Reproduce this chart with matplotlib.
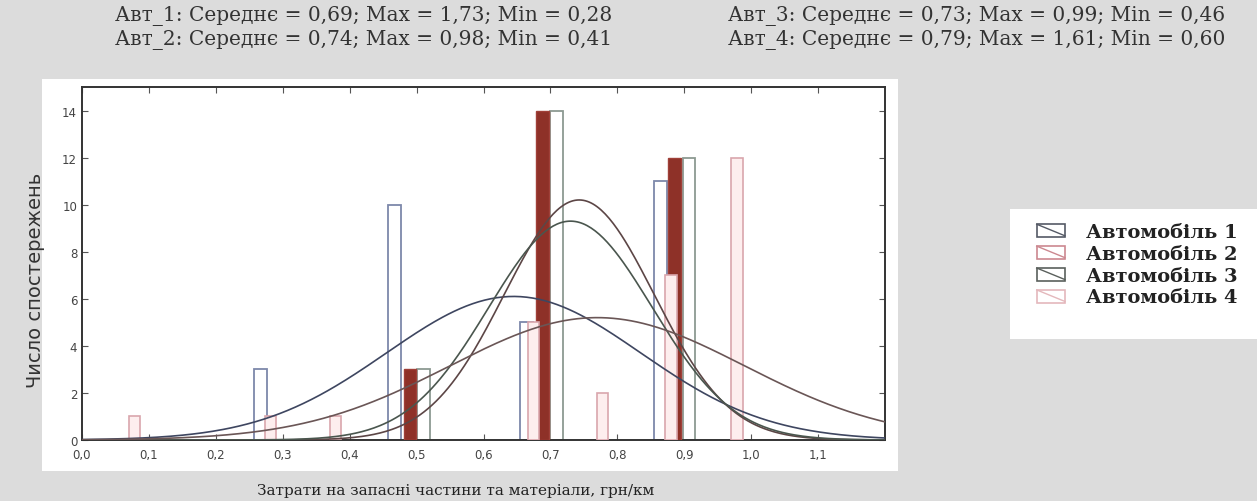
import numpy as np
import matplotlib
matplotlib.use("Agg")
import matplotlib.pyplot as plt
from matplotlib.patches import Rectangle
from matplotlib.lines import Line2D
from matplotlib.legend_handler import HandlerBase
from matplotlib.ticker import FuncFormatter

# ---- data -------------------------------------------------------------
series_names = ["Автомобіль 1", "Автомобіль 2", "Автомобіль 3", "Автомобіль 4"]

# bar positions (cost, UAH/km) and observation counts per vehicle
car1_x = [0.267, 0.467, 0.664, 0.864]
car1_n = [3, 10, 5, 11]
car2_x = [0.490, 0.688, 0.885]
car2_n = [3, 14, 12]
car3_x = [0.510, 0.709, 0.907]
car3_n = [3, 14, 12]
car4_x = [0.078, 0.282, 0.379, 0.675, 0.778, 0.880, 0.979]
car4_n = [1, 1, 1, 5, 2, 7, 12]

# fitted normal curves: (centre, spread, height)
fit_params = {
    "car1": (0.645, 0.190, 6.1),
    "car2": (0.743, 0.112, 10.2),
    "car3": (0.730, 0.122, 9.3),
    "car4": (0.770, 0.220, 5.2),
}

summary_lines = [
    "Авт_1: Середнє = 0,69; Max = 1,73; Min = 0,28",
    "Авт_2: Середнє = 0,74; Max = 0,98; Min = 0,41",
    "Авт_3: Середнє = 0,73; Max = 0,99; Min = 0,46",
    "Авт_4: Середнє = 0,79; Max = 1,61; Min = 0,60",
]

x_ticks = [0.0, 0.1, 0.2, 0.3, 0.4, 0.5, 0.6, 0.7, 0.8, 0.9, 1.0, 1.1]
y_ticks = [0, 2, 4, 6, 8, 10, 12, 14]
x_label = "Затрати на запасні частини та матеріали, грн/км"
y_label = "Число спостережень"

# ---- figure -------------------------------------------------------------
W, H = 1257, 502
fig = plt.figure(figsize=(W / 100, H / 100), dpi=100, facecolor="#dcdcdc")

def fx(px):
    return px / W

def fy(py):
    return 1 - py / H

# white panel behind the chart
fig.patches.append(Rectangle((fx(42), fy(472)), fx(898 - 42), fy(80) - fy(472),
                             transform=fig.transFigure, facecolor="white",
                             edgecolor="none", zorder=-2))
# white panel behind the legend
fig.patches.append(Rectangle((fx(1010), fy(340)), fx(1257 - 1010), fy(210) - fy(340),
                             transform=fig.transFigure, facecolor="white",
                             edgecolor="none", zorder=-2))

ax = fig.add_axes([fx(82), fy(441), fx(885 - 82), fy(88) - fy(441)])
ax.set_facecolor("white")

bar_w = 0.019
ax.bar(car1_x, car1_n, width=bar_w, facecolor="white", edgecolor="#7d88aa",
       linewidth=1.3, zorder=2)
ax.bar(car3_x, car3_n, width=bar_w, facecolor="white", edgecolor="#8c9a92",
       linewidth=1.3, zorder=2)
ax.bar(car2_x, car2_n, width=bar_w, facecolor="#8e3128", edgecolor="#a04038",
       linewidth=1.0, zorder=3)
ax.bar(car4_x, car4_n, width=0.017, facecolor="#fdeeee", edgecolor="#d9a6ad",
       linewidth=1.2, zorder=4)

xs = np.linspace(0.0, 1.2, 400)
curve_colors = {"car1": "#3e4660", "car2": "#5c4646", "car3": "#4a564e", "car4": "#6a5656"}
for key, (mu, sd, peak) in fit_params.items():
    ax.plot(xs, peak * np.exp(-0.5 * ((xs - mu) / sd) ** 2),
            color=curve_colors[key], linewidth=1.2, zorder=5)

ax.set_xlim(0, 1.2)
ax.set_ylim(0, 15)
ax.set_xticks(x_ticks)
ax.set_yticks(y_ticks)
comma = FuncFormatter(lambda v, p: f"{v:.1f}".replace(".", ","))
ax.xaxis.set_major_formatter(comma)
ax.yaxis.set_major_formatter(FuncFormatter(lambda v, p: f"{int(v)}"))
ax.tick_params(axis="both", direction="in", length=4, width=0.8, colors="#555555",
               labelsize=8.5, labelcolor="#444444", right=True, top=True)
ax.tick_params(axis="x", pad=6)
for sp in ax.spines.values():
    sp.set_color("#333333")
    sp.set_linewidth(1.4)

fig.text(fx(36), fy(280), y_label, rotation=90, ha="center", va="center",
         fontsize=14, color="#333333", family="DejaVu Sans")
fig.text(fx(456), fy(491), x_label, ha="center", va="center", fontsize=11,
         color="#222222", family="DejaVu Serif")

# summary statistics above the chart
head_kw = dict(fontsize=14.5, color="#333333", family="DejaVu Serif", va="center")
fig.text(fx(115), fy(16), summary_lines[0], ha="left", **head_kw)
fig.text(fx(115), fy(40), summary_lines[1], ha="left", **head_kw)
fig.text(fx(728), fy(16), summary_lines[2], ha="left", **head_kw)
fig.text(fx(728), fy(40), summary_lines[3], ha="left", **head_kw)


class BoxDiagonal(HandlerBase):
    def __init__(self, color):
        super().__init__()
        self.color = color

    def create_artists(self, legend, orig_handle, xdescent, ydescent, width,
                       height, fontsize, trans):
        w, h = width, height * 0.9
        x0, y0 = -xdescent, -ydescent
        rect = Rectangle((x0, y0), w, h, facecolor="white", edgecolor=self.color,
                         linewidth=1.2, transform=trans)
        diag = Line2D([x0, x0 + w], [y0 + h, y0 + h * 0.1], color=self.color,
                      linewidth=1.0, transform=trans)
        return [rect, diag]


legend_colors = ["#555a66", "#cc8890", "#5a605c", "#e4b8bc"]
handles = [Rectangle((0, 0), 1, 1) for _ in series_names]
hmap = {h: BoxDiagonal(c) for h, c in zip(handles, legend_colors)}
leg = fig.legend(handles, series_names, handler_map=hmap, loc="upper left",
                 bbox_to_anchor=(fx(1027), fy(214)), frameon=False,
                 prop={"family": "DejaVu Serif", "weight": "bold", "size": 14},
                 handlelength=1.45, handleheight=0.75, handletextpad=1.1,
                 labelspacing=0.2, borderpad=0.0)
for t in leg.get_texts():
    t.set_color("#222222")

fig.savefig("out.png", dpi=100, facecolor=fig.get_facecolor())
